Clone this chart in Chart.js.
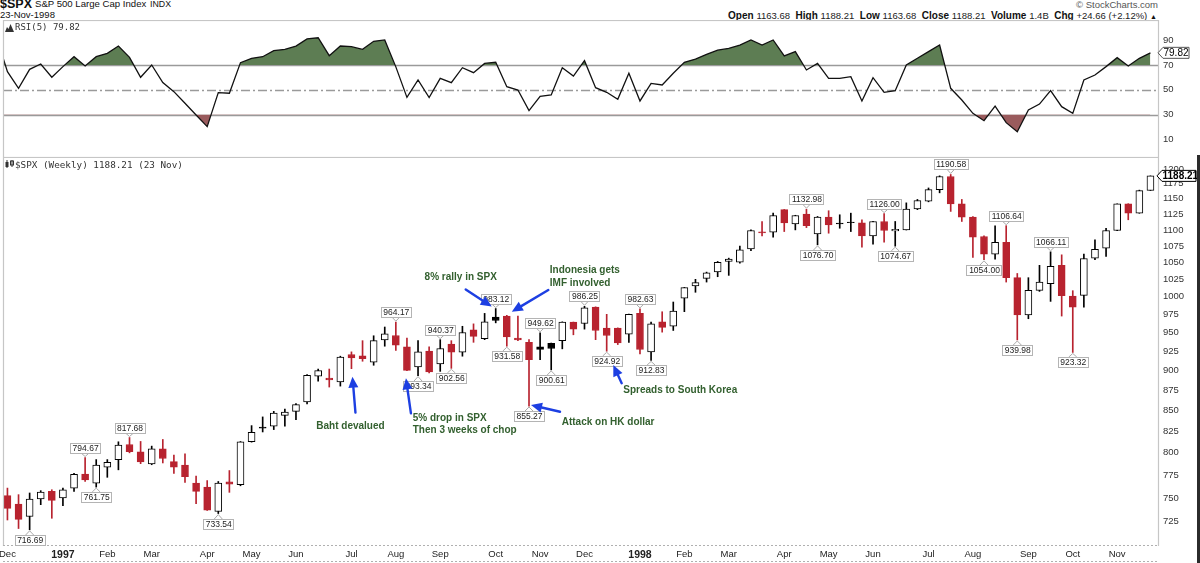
<!DOCTYPE html>
<html><head><meta charset="utf-8">
<script src="https://cdn.jsdelivr.net/npm/chart.js@4.4.0/dist/chart.umd.min.js"></script>
<style>
html,body{margin:0;padding:0;background:#fff;width:1200px;height:563px;overflow:hidden;}
.t{position:absolute;white-space:nowrap;line-height:1;font-family:"Liberation Sans",Arial,sans-serif;color:#111;}
.mono{font-family:"DejaVu Sans Mono","Liberation Mono",monospace;color:#333;}
.n{font-size:9.5px;font-weight:normal;color:#222;}
canvas{position:absolute;left:0;}
</style></head><body>
<div class="t" style="left:0;top:-2px;font-size:12.5px;font-weight:bold">$SPX</div>
<div class="t" style="left:35px;top:-0.6px;font-size:9.6px">S&amp;P 500 Large Cap Index</div>
<div class="t" style="left:150px;top:0;font-size:8.8px">INDX</div>
<div class="t" style="left:0;top:10.3px;font-size:9.5px">23-Nov-1998</div>
<div class="t" style="right:42px;top:-0.3px;font-size:9.5px;color:#555">© StockCharts.com</div>
<div class="t" id="ohlc" style="right:43px;top:10.5px;font-size:10px;font-weight:bold"></div>
<canvas id="rsi" width="1200" height="137" style="top:20px"></canvas>
<canvas id="px" width="1200" height="406" style="top:157px"></canvas>
<svg style="position:absolute;left:5px;top:24px" width="9" height="8"><path d="M0 8 L2 3 L3.5 5 L5.5 0 L9 8 Z" fill="#333"/></svg>
<div class="t mono" id="rsiTitle" style="left:15px;top:23.4px;font-size:9px"></div>
<svg style="position:absolute;left:5px;top:160px" width="9" height="8"><rect x="0.5" y="2" width="3" height="5" fill="#333"/><line x1="2" y1="0" x2="2" y2="8" stroke="#333"/><rect x="5.5" y="1" width="3" height="4" fill="none" stroke="#333" stroke-width="1"/><line x1="7" y1="0" x2="7" y2="7" stroke="#333"/></svg>
<div class="t mono" id="pxTitle" style="left:15px;top:159.6px;font-size:9.3px"></div>
<div style="position:absolute;left:1197px;top:155px;width:3px;height:408px;background:#2b2b2b"></div>
<script>
// ---------------- data ----------------
const weeks = ['1996-12-02','1996-12-09','1996-12-16','1996-12-23','1996-12-30',
'1997-01-06','1997-01-13','1997-01-20','1997-01-27','1997-02-03','1997-02-10','1997-02-17','1997-02-24',
'1997-03-03','1997-03-10','1997-03-17','1997-03-24','1997-03-31','1997-04-07','1997-04-14','1997-04-21','1997-04-28',
'1997-05-05','1997-05-12','1997-05-19','1997-05-26','1997-06-02','1997-06-09','1997-06-16','1997-06-23','1997-06-30',
'1997-07-07','1997-07-14','1997-07-21','1997-07-28','1997-08-04','1997-08-11','1997-08-18','1997-08-25',
'1997-09-01','1997-09-08','1997-09-15','1997-09-22','1997-09-29','1997-10-06','1997-10-13','1997-10-20','1997-10-27',
'1997-11-03','1997-11-10','1997-11-17','1997-11-24','1997-12-01','1997-12-08','1997-12-15','1997-12-22','1997-12-29',
'1998-01-05','1998-01-12','1998-01-19','1998-01-26','1998-02-02','1998-02-09','1998-02-16','1998-02-23',
'1998-03-02','1998-03-09','1998-03-16','1998-03-23','1998-03-30','1998-04-06','1998-04-13','1998-04-20','1998-04-27',
'1998-05-04','1998-05-11','1998-05-18','1998-05-25','1998-06-01','1998-06-08','1998-06-15','1998-06-22','1998-06-29',
'1998-07-06','1998-07-13','1998-07-20','1998-07-27','1998-08-03','1998-08-10','1998-08-17','1998-08-24','1998-08-31',
'1998-09-07','1998-09-14','1998-09-21','1998-09-28','1998-10-05','1998-10-12','1998-10-19','1998-10-26',
'1998-11-02','1998-11-09','1998-11-16','1998-11-23'];

const open = [752.5,743.6,730.4,748.9,757.1,750.0,760.7,776.2,766.1,783.8,
792.3,809.6,801.2,787.3,804.6,790.0,786.1,766.1,761.8,735.7,
767.5,764.3,812.7,830.1,830.9,844.0,848.8,860.4,892.5,890.0,
885.4,920.6,918.9,910.5,939.9,946.0,930.7,904.4,925.0,908.3,
934.6,923.7,953.8,941.7,971.2,972.6,942.5,936.8,930.7,935.5,
939.0,964.1,962.3,985.0,956.1,956.1,947.8,976.3,924.1,964.6,
958.5,997.6,1015.3,1026.4,1036.0,1051.5,1050.5,1070.5,1096.9,1096.4,
1132.2,1109.4,1125.0,1093.7,1120.2,1110.6,1112.2,1111.0,1090.6,1113.3,
1098.4,1100.0,1133.3,1146.1,1165.2,1187.2,1141.7,1120.2,1089.6,1062.5,
1080.7,1027.4,974.1,1009.0,1018.5,1045.7,1000.9,1001.8,1056.5,1071.5,
1099.0,1141.7,1126.6,1163.68];

const high = [760.7,753.6,755.4,757.9,758.9,760.7,776.9,794.67,792.3,792.3,
812.7,817.68,813.1,807.7,815.4,797.3,798.8,773.9,768.9,767.9,
780.0,813.0,831.7,842.1,848.8,851.6,858.3,894.6,901.7,901.7,
918.4,924.1,939.0,945.6,957.5,964.17,942.5,939.0,930.7,940.37,
939.0,958.5,961.8,976.3,983.12,973.6,972.6,940.3,949.62,935.8,
964.6,964.3,986.25,985.5,975.0,956.3,975.2,982.63,964.1,978.6,
992.3,1013.2,1025.0,1035.6,1051.5,1056.5,1075.0,1100.0,1113.3,1126.6,
1132.5,1123.2,1132.98,1121.3,1130.5,1124.0,1126.6,1116.0,1113.6,1126.00,
1113.3,1143.3,1148.9,1167.9,1188.3,1190.58,1148.9,1121.3,1090.6,1106.3,
1106.64,1033.6,1027.4,1045.7,1066.11,1061.5,1008.5,1062.5,1084.4,1102.6,
1141.9,1141.9,1164.3,1188.21];

const low = [726.8,718.0,716.69,742.9,728.6,741.8,757.1,767.9,761.75,772.5,
780.8,800.0,787.7,786.5,788.5,776.9,766.8,743.9,736.8,733.54,
756.1,763.2,812.3,824.2,827.0,830.9,838.9,857.9,886.3,878.8,
880.0,902.2,911.8,906.6,931.6,925.9,899.5,893.34,896.7,898.7,
902.56,918.4,936.8,940.3,963.2,931.58,939.0,855.27,914.0,900.61,
928.1,946.9,954.6,940.3,924.92,933.8,936.8,921.5,912.83,950.5,
952.8,978.7,1006.2,1021.0,1028.8,1030.8,1049.0,1068.0,1090.6,1088.5,
1097.4,1100.0,1103.6,1076.70,1094.8,1102.6,1097.4,1073.0,1077.6,1080.7,
1074.67,1099.8,1132.2,1145.0,1159.8,1129.4,1113.3,1057.5,1054.00,1055.0,
1021.0,939.98,968.9,1007.5,993.2,972.6,923.32,985.0,1054.0,1059.0,
1098.8,1116.0,1126.4,1163.68];

const close = [738.9,727.5,748.9,756.4,747.5,758.9,775.7,769.6,786.1,789.2,
808.8,801.2,789.6,804.6,793.5,783.8,773.2,757.1,737.2,766.1,
765.0,812.7,823.8,828.6,846.8,848.0,857.1,893.7,899.6,887.9,
917.1,916.2,915.3,939.0,948.2,932.9,900.0,924.1,897.9,928.5,
923.7,950.0,944.7,964.6,966.5,943.9,939.9,914.0,927.2,928.5,
964.1,954.6,984.1,952.8,946.0,936.0,975.0,927.2,961.8,957.0,
979.5,1012.8,1020.1,1034.6,1050.0,1055.0,1069.0,1099.0,1095.3,1122.9,
1111.0,1122.9,1106.8,1120.2,1108.0,1109.4,1111.2,1090.6,1113.3,1099.0,
1101.0,1133.3,1147.2,1165.2,1187.2,1141.7,1120.2,1088.5,1062.5,1080.7,
1027.4,974.1,1009.0,1021.0,1044.2,1001.4,985.0,1056.0,1070.0,1099.0,
1141.7,1126.6,1163.55,1188.21];

const firstPrevClose = 757.0;   // close of the week before the first candle

const rsi = [64.6,51.2,66.5,70.8,60.1,68.7,76.7,69.2,76.7,79.4,
85.3,76.2,60.1,70.0,55.8,48.5,39.1,29.7,20.3,47.7,
47.2,71.9,75.4,76.7,81.6,82.6,85.3,91.0,92.0,77.5,
85.3,84.8,82.6,89.1,90.2,68.5,43.9,57.9,43.7,59.2,
55.8,67.8,63.8,71.3,72.2,52.5,49.8,33.2,44.8,45.8,
67.8,61.1,73.5,51.7,48.0,42.3,63.3,41.0,55.2,53.9,
63.3,72.2,74.8,78.6,82.0,83.4,86.1,90.2,86.1,90.2,
77.3,80.8,66.0,71.3,59.2,59.2,60.6,41.0,59.8,48.0,
49.3,70.0,75.4,80.8,86.1,51.2,41.8,31.0,25.1,36.9,
23.5,16.2,33.7,38.5,49.3,36.4,31.0,57.9,61.9,68.7,
75.9,69.2,75.4,79.82];
const rsiLead = 93;   // RSI of the week before the first one (line enters from the left edge)

const priceTicks = [725,750,775,800,825,850,875,900,925,950,975,1000,1025,1050,1075,1100,1125,1150,1175,1200];
const rsiTicks = [10,30,50,70,90];
const rsiLevels = [30,50,70];
const monthNames = ['Jan','Feb','Mar','Apr','May','Jun','Jul','Aug','Sep','Oct','Nov','Dec'];
const volumeText = '1.4B';

const labeledHighs = [7,11,35,39,44,48,52,57,72,79,85,90,94];
const labeledLows = [2,8,19,37,40,45,47,49,54,58,73,80,88,91,96];

// annotation layout (anchored to a candle's high/low, pixel offsets)
const notes = [
 {i:31, at:'low',  head:[1,8],      tail:[4,44],       text:['Baht devalued'], tx:-1, ty:58, align:'center'},
 {i:36, at:'low',  head:[-1,7.6],   tail:[4,42.6],     text:['5% drop in SPX','Then 3 weeks of chop'], tx:5.8, ty:47, align:'left'},
 {i:44, at:'high', head:[-4,-2],    tail:[-30,-19],    text:['8% rally in SPX'], tx:-35, ty:-31, align:'center'},
 {i:45, at:'high', head:[5,-3.6],   tail:[41.5,-25.3], text:['Indonesia gets','IMF involved'], tx:43, ty:-44.6, align:'left'},
 {i:47, at:'low',  head:[2,-1],     tail:[31,5.7],     text:['Attack on HK dollar'], tx:32.7, ty:15.7, align:'left'},
 {i:54, at:'low',  head:[6.6,13.8], tail:[15,32],      text:['Spreads to South Korea'], tx:16.6, ty:38.8, align:'left'}
];

// ---------------- styles ----------------
const FONT = '"Liberation Sans", Arial, sans-serif';
const CANDLE_RED = '#b8232f';
const GREEN = '#5d7d53';
const RED_FILL = '#9a5b5d';
const LEVEL = '#9a9a9a';
const BORDER = '#c6c6c6';
const NOTE_COLOR = '#33602f';
const ARROW = '#1d3fe2';
const X_MIN = -0.4, X_MAX = 103.77;
Chart.defaults.font.family = FONT;

const N = weeks.length, last = N - 1;

// header texts
const chg = close[last] - close[last-1];
const pct = chg / close[last-1] * 100;
const sp = '&nbsp;&nbsp;';
document.getElementById('ohlc').innerHTML =
 'Open <span class="n">'+open[last].toFixed(2)+'</span>'+sp+'High <span class="n">'+high[last].toFixed(2)+'</span>'+sp+
 'Low <span class="n">'+low[last].toFixed(2)+'</span>'+sp+'Close <span class="n">'+close[last].toFixed(2)+'</span>'+sp+
 'Volume <span class="n">'+volumeText+'</span>'+sp+'Chg <span class="n">'+(chg>=0?'+':'')+chg.toFixed(2)+' ('+(pct>=0?'+':'')+pct.toFixed(2)+'%)</span> <span style="font-size:7px">▲</span>';
document.getElementById('rsiTitle').textContent = 'RSI(5) ' + rsi[last].toFixed(2);
const d = weeks[last].split('-');
document.getElementById('pxTitle').textContent = '$SPX (Weekly) ' + close[last].toFixed(2) + ' (' + (+d[2]) + ' ' + monthNames[+d[1]-1] + ')';

// ---------------- helpers ----------------
function marker(ctx, x0, x1, y, text, bold, stroke) {
  const h = 5.5;
  ctx.beginPath();
  ctx.moveTo(x0, y); ctx.lineTo(x0+5, y-h); ctx.lineTo(x1, y-h); ctx.lineTo(x1, y+h); ctx.lineTo(x0+5, y+h); ctx.closePath();
  ctx.fillStyle = '#fff'; ctx.fill();
  ctx.strokeStyle = stroke; ctx.lineWidth = 1; ctx.stroke();
  ctx.fillStyle = '#000'; ctx.font = (bold ? 'bold ' : '') + '10px ' + FONT;
  ctx.textAlign = 'left'; ctx.textBaseline = 'middle';
  ctx.fillText(text, x0 + 5.5, y + 0.5);
}
function valueLabel(ctx, x, yTip, text, above) {
  ctx.font = '8.5px ' + FONT;
  const w = Math.round(ctx.measureText(text).width + 4), h = 10;
  const cy = above ? yTip - 10 : yTip + 10;
  const top = Math.round(cy - h/2);
  const left = Math.round(x - w/2);
  ctx.strokeStyle = '#a9a9a9'; ctx.lineWidth = 1;
  ctx.beginPath();
  if (above) { ctx.moveTo(x-4, top+h); ctx.lineTo(x, yTip-1); ctx.lineTo(x+4, top+h); }
  else { ctx.moveTo(x-4, top); ctx.lineTo(x, yTip+1); ctx.lineTo(x+4, top); }
  ctx.stroke();
  ctx.fillStyle = '#fff'; ctx.fillRect(left, top, w, h);
  ctx.strokeStyle = '#b4b4b4'; ctx.strokeRect(left+0.5, top+0.5, w, h);
  ctx.fillStyle = '#222'; ctx.textAlign = 'center'; ctx.textBaseline = 'middle';
  ctx.fillText(text, x + 0.5, top + h/2 + 1);
}
function drawArrow(ctx, x1, y1, x2, y2) {
  const ang = Math.atan2(y2-y1, x2-x1), L = 11, W = 5;
  const bx = x2 - L*Math.cos(ang), by = y2 - L*Math.sin(ang);
  ctx.strokeStyle = ARROW; ctx.fillStyle = ARROW; ctx.lineWidth = 2.4; ctx.lineCap = 'round';
  ctx.beginPath(); ctx.moveTo(x1, y1); ctx.lineTo(bx, by); ctx.stroke();
  ctx.beginPath(); ctx.moveTo(x2, y2);
  ctx.lineTo(bx + W*Math.sin(ang), by - W*Math.cos(ang));
  ctx.lineTo(bx - W*Math.sin(ang), by + W*Math.cos(ang));
  ctx.closePath(); ctx.fill();
}
function tickFont(size) { return {family: FONT, size: size}; }

// ---------------- RSI panel ----------------
const rsiPoints = [{x:-1, y:rsiLead}].concat(rsi.map((v,i)=>({x:i, y:v})));
const rsiPlugin = {
  id:'rsiDecor',
  beforeDatasetsDraw(chart) {
    const {ctx, chartArea:a, scales:{y}} = chart;
    ctx.save();
    rsiLevels.forEach(v=>{
      const py = Math.round(y.getPixelForValue(v)) + 0.5;
      ctx.strokeStyle = LEVEL; ctx.lineWidth = 1.4;
      ctx.setLineDash(v === 50 ? [9,3,2,3] : []);
      ctx.beginPath(); ctx.moveTo(a.left, py); ctx.lineTo(a.right, py); ctx.stroke();
    });
    ctx.restore();
  },
  afterDraw(chart) {
    const {ctx, chartArea:a, scales:{y}} = chart;
    ctx.save();
    ctx.strokeStyle = BORDER; ctx.lineWidth = 1.2;
    ctx.strokeRect(a.left+0.5, a.top+0.5, a.right-a.left-1, a.bottom-a.top);
    marker(ctx, 1158, 1189, y.getPixelForValue(rsi[last]), rsi[last].toFixed(2), false, '#555');
    ctx.restore();
  }
};
new Chart(document.getElementById('rsi'), {
  type:'line',
  data:{datasets:[
    {data:rsiPoints, borderColor:'#111', borderWidth:1.3, pointRadius:0, tension:0,
     fill:{target:{value:70}, above:GREEN, below:'rgba(0,0,0,0)'}, order:1},
    {data:rsiPoints, borderColor:'rgba(0,0,0,0)', borderWidth:0, pointRadius:0, tension:0,
     fill:{target:{value:30}, above:'rgba(0,0,0,0)', below:RED_FILL}, order:2}
  ]},
  options:{
    responsive:false, animation:false, events:[],
    layout:{padding:{left:3, right:0, top:0, bottom:0}},
    plugins:{legend:{display:false}, tooltip:{enabled:false}},
    scales:{
      x:{type:'linear', min:X_MIN, max:X_MAX, bounds:'data', display:false},
      y:{type:'linear', position:'right', min:-4.2, max:106.3, bounds:'data',
         afterBuildTicks:s=>{ s.ticks = rsiTicks.map(v=>({value:v})); },
         afterFit:s=>{ s.width = 41; s.paddingTop = 0; s.paddingBottom = 0; },
         grid:{display:false, drawTicks:false}, border:{display:false},
         ticks:{padding:4, color:'#333', font:tickFont(9.5), autoSkip:false, callback:v=>String(v)}}
    }
  },
  plugins:[rsiPlugin]
});

// ---------------- price panel ----------------
const prevClose = i => i === 0 ? firstPrevClose : close[i-1];
const tone = weeks.map((w,i)=> close[i] >= prevClose(i) ? '#000' : CANDLE_RED);
const bodyFill = weeks.map((w,i)=> close[i] < open[i] ? tone[i] : '#fff');
const bodies = weeks.map((w,i)=>({x:i, y:[Math.min(open[i],close[i]), Math.max(open[i],close[i])]}));
const wicks = weeks.map((w,i)=>({x:i, y:[low[i], high[i]]}));
const monthStarts = weeks.map((w,i)=> +w.slice(8,10) <= 7 ? i : -1).filter(i=>i>=0);
const tickLabel = i => { const m = +weeks[i].slice(5,7); return m === 1 ? weeks[i].slice(0,4) : monthNames[m-1]; };

const pricePlugin = {
  id:'priceDecor',
  afterDatasetsDraw(chart) {
    const {ctx, scales:{x, y}} = chart;
    ctx.save();
    labeledHighs.forEach(i=>valueLabel(ctx, x.getPixelForValue(i), y.getPixelForValue(high[i]), high[i].toFixed(2), true));
    labeledLows.forEach(i=>valueLabel(ctx, x.getPixelForValue(i), y.getPixelForValue(low[i]), low[i].toFixed(2), false));
    notes.forEach(n=>{
      const bx = x.getPixelForValue(n.i);
      const by = y.getPixelForValue(n.at === 'low' ? low[n.i] : high[n.i]);
      drawArrow(ctx, bx+n.tail[0], by+n.tail[1], bx+n.head[0], by+n.head[1]);
      ctx.font = 'bold 10px ' + FONT; ctx.fillStyle = NOTE_COLOR;
      ctx.textAlign = n.align; ctx.textBaseline = 'middle';
      n.text.forEach((t,k)=>ctx.fillText(t, bx+n.tx, by+n.ty+k*12.5));
    });
    ctx.restore();
  },
  afterDraw(chart) {
    const {ctx, chartArea:a, scales:{y}, height} = chart;
    ctx.save();
    ctx.strokeStyle = BORDER; ctx.lineWidth = 1.2;
    ctx.beginPath();
    ctx.moveTo(a.left+0.5, a.bottom); ctx.lineTo(a.left+0.5, a.top+0.5); ctx.lineTo(a.right-0.5, a.top+0.5); ctx.lineTo(a.right-0.5, a.bottom);
    ctx.stroke();
    ctx.strokeStyle = '#b0b0b0'; ctx.lineWidth = 1; ctx.setLineDash([2,2]);
    ctx.beginPath(); ctx.moveTo(a.left, a.bottom-0.5); ctx.lineTo(a.right, a.bottom-0.5); ctx.stroke();
    ctx.beginPath(); ctx.moveTo(a.left, height-1.5); ctx.lineTo(a.right, height-1.5); ctx.stroke();
    ctx.setLineDash([]);
    marker(ctx, 1157, 1196, y.getPixelForValue(close[last]), close[last].toFixed(2), true, '#000');
    ctx.restore();
  }
};

new Chart(document.getElementById('px'), {
  type:'bar',
  data:{datasets:[
    {data:wicks, backgroundColor:tone, borderWidth:0, barThickness:1, grouped:false, order:2},
    {data:bodies, backgroundColor:bodyFill, borderColor:tone, borderWidth:1, borderSkipped:false, barThickness:7, grouped:false, order:1}
  ]},
  options:{
    responsive:false, animation:false, events:[],
    layout:{padding:{left:3, right:0, top:0, bottom:0}},
    plugins:{legend:{display:false}, tooltip:{enabled:false}},
    scales:{
      x:{type:'linear', min:X_MIN, max:X_MAX, bounds:'data', offset:false, position:'bottom',
         afterBuildTicks:s=>{ s.ticks = monthStarts.map(v=>({value:v})); },
         afterFit:s=>{ s.height = 17; s.paddingLeft = 0; s.paddingRight = 0; },
         grid:{display:false, drawTicks:false, offset:false}, border:{display:false},
         ticks:{autoSkip:false, maxRotation:0, minRotation:0, padding:3, color:'#222',
                callback:v=>tickLabel(v),
                font:c=>{ const yr = c.tick && +weeks[c.tick.value].slice(5,7) === 1;
                          return {family:FONT, size: yr ? 10.5 : 9.5, weight: yr ? 'bold' : 'normal'}; }}},
      y:{type:'logarithmic', position:'right', min:700.3, max:1220.7, bounds:'data',
         afterBuildTicks:s=>{ s.ticks = priceTicks.map(v=>({value:v})); },
         afterFit:s=>{ s.width = 41; s.paddingTop = 0; s.paddingBottom = 0; },
         grid:{display:false, drawTicks:false}, border:{display:false},
         ticks:{padding:4, color:'#333', font:tickFont(9.5), autoSkip:false, callback:v=>String(v)}}
    }
  },
  plugins:[pricePlugin]
});
</script>
</body></html>
